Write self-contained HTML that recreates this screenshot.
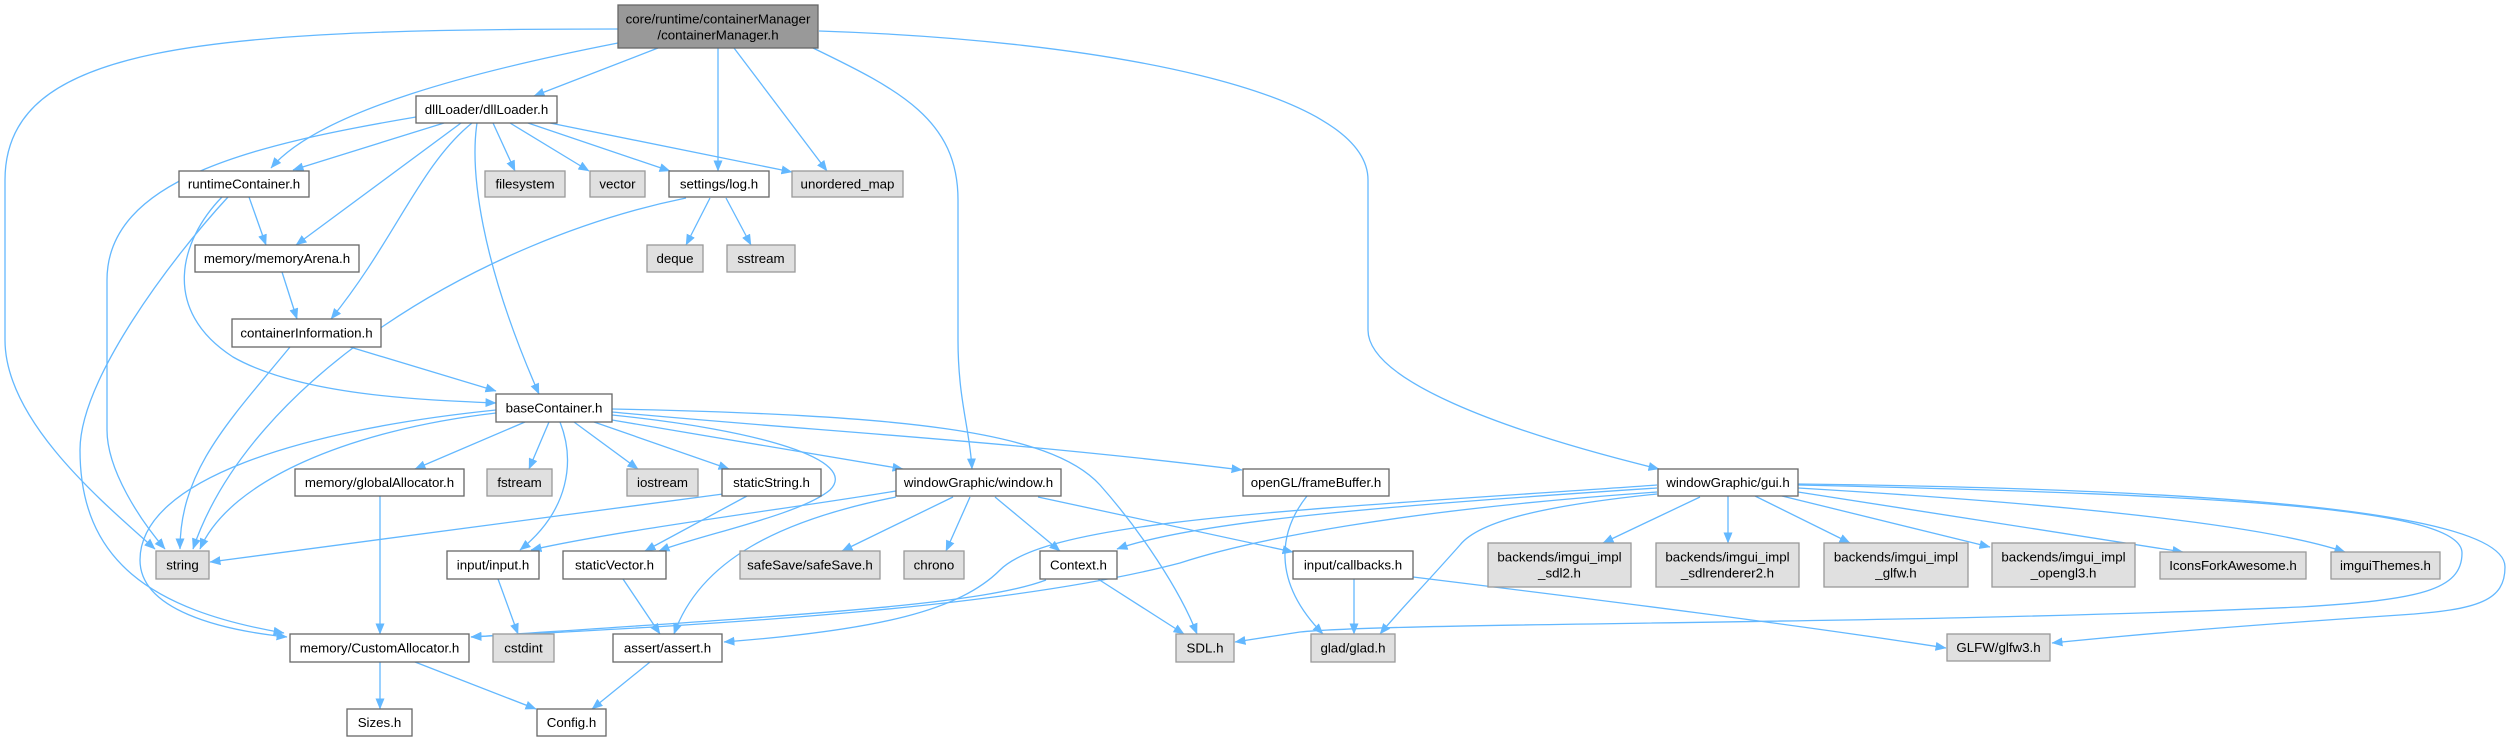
<!DOCTYPE html>
<html>
<head>
<meta charset="utf-8">
<style>
html,body{margin:0;padding:0;background:#fff;}
svg{display:block;}
text{font-family:"Liberation Sans",Arial,sans-serif;font-size:13.3px;fill:#000;text-anchor:middle;}
.e{fill:none;stroke:#63b8ff;stroke-width:1.3;marker-end:url(#a);}
.w{fill:#fff;stroke:#666;stroke-width:1.3;}
.g{fill:#e0e0e0;stroke:#999;stroke-width:1.3;}
.r{fill:#999;stroke:#666;stroke-width:1.3;}
</style>
</head>
<body>
<svg width="2511" height="741" viewBox="0 0 2511 741" xmlns="http://www.w3.org/2000/svg">
<defs>
<marker id="a" markerUnits="userSpaceOnUse" markerWidth="11" markerHeight="9" viewBox="0 0 11 9" refX="10.5" refY="4.5" orient="auto">
<path d="M0,0 L11,4.5 L0,9 Z" fill="#63b8ff"/>
</marker>
</defs>

<!-- edges from root -->
<path class="e" d="M618,29 C200,29 5,45 5,180 L5,340 C5,420 100,500 155,549"/>
<path class="e" d="M618,43 C480,70 320,110 271,168"/>
<path class="e" d="M658,48 L534,96"/>
<path class="e" d="M718,48 L718,171"/>
<path class="e" d="M734,48 L827,171"/>
<path class="e" d="M813,48 C900,90 958,120 958,200 L958,340 C958,400 970,430 972,469"/>
<path class="e" d="M819,31 C1100,40 1368,90 1368,180 L1368,330 C1368,380 1500,430 1659,469"/>

<!-- dllLoader edges -->
<path class="e" d="M416,117 C250,145 107,180 107,280 L107,430 C107,470 140,520 165,549"/>
<path class="e" d="M444,123 L293,170"/>
<path class="e" d="M461,123 L296,245"/>
<path class="e" d="M472,123 C420,165 395,240 331,319"/>
<path class="e" d="M477,123 C470,170 480,260 539,394"/>
<path class="e" d="M493,123 L515,171"/>
<path class="e" d="M510,123 L589,171"/>
<path class="e" d="M528,123 L670,171"/>
<path class="e" d="M550,123 L792,172"/>

<!-- runtimeContainer edges -->
<path class="e" d="M249,197 L266,245"/>
<path class="e" d="M222,197 C180,240 160,310 233,357 C300,395 420,400 496,403"/>
<path class="e" d="M228,197 C170,260 80,380 80,450 C80,560 150,610 284,633"/>

<!-- log.h edges -->
<path class="e" d="M710,198 L686,245"/>
<path class="e" d="M726,198 L751,245"/>
<path class="e" d="M686,198 C480,240 250,380 193,549"/>

<!-- memoryArena / containerInformation -->
<path class="e" d="M282,272 L297,319"/>
<path class="e" d="M350,347 L496,391"/>
<path class="e" d="M290,347 C230,420 180,470 180,549"/>

<!-- baseContainer edges -->
<path class="e" d="M496,413 C350,430 230,480 200,549"/>
<path class="e" d="M496,410 C300,430 140,480 140,560 C140,610 220,630 287,637"/>
<path class="e" d="M525,422 L415,469"/>
<path class="e" d="M549,422 L529,469"/>
<path class="e" d="M560,422 C575,460 570,510 520,550"/>
<path class="e" d="M574,422 L638,469"/>
<path class="e" d="M594,422 L729,469"/>
<path class="e" d="M612,420 L903,469"/>
<path class="e" d="M612,412 C800,430 1000,440 1242,470"/>
<path class="e" d="M612,409 C900,415 1050,430 1100,485 C1140,530 1180,590 1197,634"/>
<path class="e" d="M612,415 C760,430 860,460 830,490 C800,515 700,535 659,551"/>

<!-- staticString -->
<path class="e" d="M747,496 L645,551"/>
<path class="e" d="M723,494 L210,562"/>

<!-- misc lower -->
<path class="e" d="M380,496 L380,634"/>
<path class="e" d="M498,579 L518,634"/>
<path class="e" d="M623,579 L660,634"/>
<path class="e" d="M380,662 L380,709"/>
<path class="e" d="M415,662 L536,709"/>
<path class="e" d="M650,662 L592,709"/>

<!-- window.h edges -->
<path class="e" d="M896,491 C780,510 620,530 531,550"/>
<path class="e" d="M896,497 C780,520 700,560 674,634"/>
<path class="e" d="M953,497 L842,551"/>
<path class="e" d="M970,497 L946,551"/>
<path class="e" d="M995,497 L1060,551"/>
<path class="e" d="M1038,497 L1293,552"/>

<!-- Context edges -->
<path class="e" d="M1098,579 L1184,634"/>
<path class="e" d="M1046,580 C980,605 800,615 471,637"/>

<!-- gui.h edges -->
<path class="e" d="M1657,485 C1300,510 1050,520 1000,570 C960,610 880,630 724,642"/>
<path class="e" d="M1657,488 C1400,505 1200,520 1117,549"/>
<path class="e" d="M1657,492 C1400,510 1250,540 1180,563 C1000,610 700,625 471,637"/>
<path class="e" d="M1657,494 C1550,505 1480,520 1460,545 C1420,590 1400,610 1380,634"/>
<path class="e" d="M1700,497 L1603,543"/>
<path class="e" d="M1728,496 L1728,543"/>
<path class="e" d="M1755,496 L1850,543"/>
<path class="e" d="M1782,496 L1990,547"/>
<path class="e" d="M1798,492 L2183,552"/>
<path class="e" d="M1798,488 C2000,500 2250,520 2345,552"/>
<path class="e" d="M1798,485 C2250,495 2462,510 2462,553 C2462,590 2420,600 2300,607 C1900,625 1400,622 1300,632 L1235,642"/>
<path class="e" d="M1798,484 C2300,490 2505,520 2505,567 C2505,600 2480,610 2400,615 C2250,625 2150,633 2052,643"/>

<!-- callbacks / frameBuffer -->
<path class="e" d="M1354,579 L1354,634"/>
<path class="e" d="M1413,577 C1600,600 1800,625 1946,648"/>
<path class="e" d="M1307,496 C1280,530 1270,580 1323,634"/>

<!-- nodes -->
<rect class="r" x="618" y="5" width="200" height="43"/>
<text x="718" y="23.5">core/runtime/containerManager</text>
<text x="718" y="39.5">/containerManager.h</text>

<rect class="w" x="416" y="96" width="141" height="27"/>
<text x="486.5" y="114">dllLoader/dllLoader.h</text>

<rect class="w" x="179" y="171" width="130" height="26"/>
<text x="244" y="188.5">runtimeContainer.h</text>

<rect class="g" x="485" y="171" width="80" height="26"/>
<text x="525" y="188.5">filesystem</text>

<rect class="g" x="590" y="171" width="55" height="26"/>
<text x="617.5" y="188.5">vector</text>

<rect class="w" x="669" y="171" width="100" height="26"/>
<text x="719" y="188.5">settings/log.h</text>

<rect class="g" x="792" y="171" width="111" height="26"/>
<text x="847.5" y="188.5">unordered_map</text>

<rect class="w" x="195" y="245" width="164" height="27"/>
<text x="277" y="263">memory/memoryArena.h</text>

<rect class="g" x="647" y="245" width="56" height="27"/>
<text x="675" y="263">deque</text>

<rect class="g" x="727" y="245" width="68" height="27"/>
<text x="761" y="263">sstream</text>

<rect class="w" x="232" y="319" width="149" height="28"/>
<text x="306.5" y="337.5">containerInformation.h</text>

<rect class="w" x="496" y="394" width="116" height="28"/>
<text x="554" y="412.5">baseContainer.h</text>

<rect class="w" x="295" y="469" width="169" height="27"/>
<text x="379.5" y="487">memory/globalAllocator.h</text>

<rect class="g" x="487" y="469" width="65" height="27"/>
<text x="519.5" y="487">fstream</text>

<rect class="g" x="627" y="469" width="71" height="27"/>
<text x="662.5" y="487">iostream</text>

<rect class="w" x="722" y="469" width="99" height="27"/>
<text x="771.5" y="487">staticString.h</text>

<rect class="w" x="896" y="469" width="165" height="27"/>
<text x="978.5" y="487">windowGraphic/window.h</text>

<rect class="w" x="1243" y="469" width="146" height="27"/>
<text x="1316" y="487">openGL/frameBuffer.h</text>

<rect class="w" x="1658" y="469" width="140" height="27"/>
<text x="1728" y="487">windowGraphic/gui.h</text>

<rect class="g" x="156" y="551" width="53" height="28"/>
<text x="182.5" y="569.5">string</text>

<rect class="w" x="447" y="551" width="92" height="28"/>
<text x="493" y="569.5">input/input.h</text>

<rect class="w" x="563" y="551" width="103" height="28"/>
<text x="614.5" y="569.5">staticVector.h</text>

<rect class="g" x="740" y="551" width="140" height="28"/>
<text x="810" y="569.5">safeSave/safeSave.h</text>

<rect class="g" x="904" y="551" width="60" height="28"/>
<text x="934" y="569.5">chrono</text>

<rect class="w" x="1040" y="551" width="77" height="28"/>
<text x="1078.5" y="569.5">Context.h</text>

<rect class="w" x="1293" y="551" width="120" height="28"/>
<text x="1353" y="569.5">input/callbacks.h</text>

<rect class="g" x="1488" y="543" width="143" height="44"/>
<text x="1559.5" y="561.5">backends/imgui_impl</text>
<text x="1559.5" y="577.5">_sdl2.h</text>

<rect class="g" x="1656" y="543" width="143" height="44"/>
<text x="1727.5" y="561.5">backends/imgui_impl</text>
<text x="1727.5" y="577.5">_sdlrenderer2.h</text>

<rect class="g" x="1824" y="543" width="144" height="44"/>
<text x="1896" y="561.5">backends/imgui_impl</text>
<text x="1896" y="577.5">_glfw.h</text>

<rect class="g" x="1992" y="543" width="143" height="44"/>
<text x="2063.5" y="561.5">backends/imgui_impl</text>
<text x="2063.5" y="577.5">_opengl3.h</text>

<rect class="g" x="2160" y="552" width="146" height="27"/>
<text x="2233" y="570">IconsForkAwesome.h</text>

<rect class="g" x="2331" y="552" width="109" height="27"/>
<text x="2385.5" y="570">imguiThemes.h</text>

<rect class="w" x="290" y="634" width="179" height="28"/>
<text x="379.5" y="652.5">memory/CustomAllocator.h</text>

<rect class="g" x="493" y="634" width="61" height="28"/>
<text x="523.5" y="652.5">cstdint</text>

<rect class="w" x="613" y="634" width="109" height="28"/>
<text x="667.5" y="652.5">assert/assert.h</text>

<rect class="g" x="1176" y="634" width="58" height="28"/>
<text x="1205" y="652.5">SDL.h</text>

<rect class="g" x="1311" y="634" width="84" height="28"/>
<text x="1353" y="652.5">glad/glad.h</text>

<rect class="g" x="1947" y="634" width="103" height="27"/>
<text x="1998.5" y="652">GLFW/glfw3.h</text>

<rect class="w" x="347" y="709" width="65" height="27"/>
<text x="379.5" y="727">Sizes.h</text>

<rect class="w" x="537" y="709" width="69" height="27"/>
<text x="571.5" y="727">Config.h</text>
</svg>
</body>
</html>
